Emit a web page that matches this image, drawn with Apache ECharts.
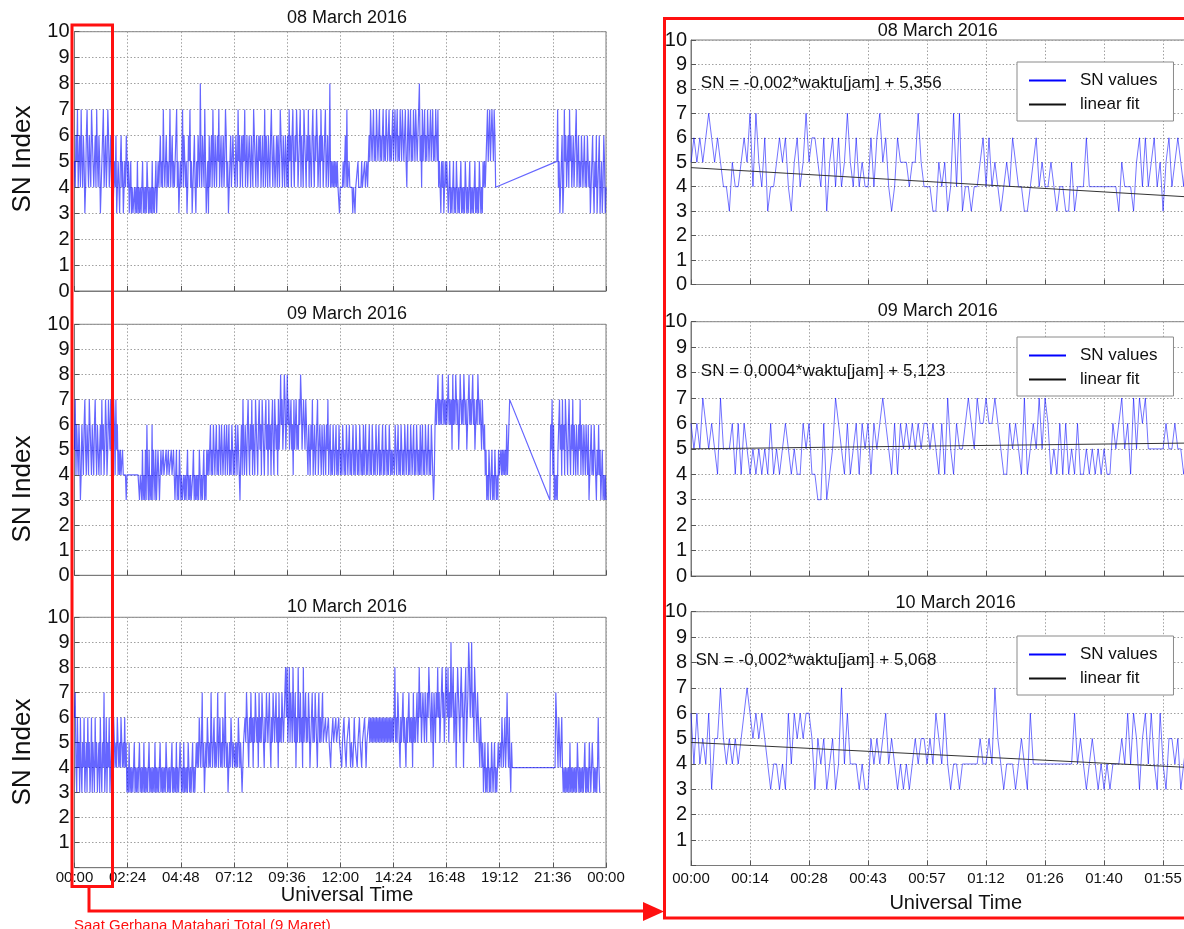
<!DOCTYPE html>
<html>
<head>
<meta charset="utf-8">
<script src="https://cdn.jsdelivr.net/npm/echarts@6/dist/echarts.min.js"></script>
<style>
html,body{margin:0;padding:0;background:#fff;}
#chart{width:1184px;height:929px;}
</style>
</head>
<body>
<div id="chart"></div>
<script>
// ---------- tick labels ----------
const LEFT_TICKS = ['00:00','02:24','04:48','07:12','09:36','12:00','14:24','16:48','19:12','21:36','00:00'];
const RIGHT_TICKS = ['00:00','00:14','00:28','00:43','00:57','01:12','01:26','01:40','01:55','02:09','02:24'];
const TITLES = ['08 March 2016','09 March 2016','10 March 2016'];
const FIT_TEXT = ['SN = -0,002*waktu[jam] + 5,356','SN = 0,0004*waktu[jam] + 5,123','SN = -0,002*waktu[jam] + 5,068'];

// ---------- full-day SN values (about 2-minute sampling) ----------
const d08a = [
5,4,6,5,7,4,5,6,4,7,5,4,6,5,3,4,6,7,5,4,6,5,4,7,6,5,4,5,6,4,7,5,4,6,5,3,4,5,6,7,4,5,6,4,5,7,6,4,5,6,
4,5,3,4,5,4,6,3,4,5,4,3,5,6,4,5,3,4,5,4,6,5,
4,5,3,4,5,3,4,3,
3,4,3,4,3,5,3,4,3,4,3,4,5,3,4,3,4,3,5,4,3,4,3,4,3,5,3,4,3,4,5,3,
4,5,4,5,6,4,5,4,7,5,4,5,6,4,5,4,5,7,4,5,6,4,5,4,5,6,7,4,5,3,4,5,
4,5,7,4,6,5,4,5,3,4,6,5,7,4,5,3,4,5,6,4,3,5,4,6,5,4,8,5,4,6,5,4,7,5,3,4,5,3,6,4,5,6,4,7,5,4,6,5,4,6,5,7,4,5,6,4,5,6,4,5,7,6,4,5,3,4,5,6,4,5,6,5,
5,4,6,5,4,7,5,6,4,5,6,4,6,5,7,4,5,6,4,5,6,5,4,6,5,4,7,6,5,4,6,5,4,6,5,6,4,5,6,4,5,7,4,6,5,4,6,5,4,6,7,5,4,6,5,4,5,6,4,6,5,4,7,6,5,4,6,5,4,6,5,4,
6,4,7,5,6,4,6,7,5,4,6,5,7,6,4,5,6,7,4,6,5,4,7,6,5,4,6,5,7,4,6,5,4,6,7,5,4,6,5,7,6,4,5,6,4,7,5,6,4,5,6,7,4,5,6,4,5,8,4,5,4,5,4,5,4,5,4,5,4,4,3,4,
4,4,4,5,4,4,6,4,7,4,4,5,4,4,4,4,3,4,4,3,4,4,4,5,4,4,4,4,5,4,4,4,5,4,4,5,4,5,
6,5,7,6,5,6,7,5,6,5,7,6,5,6,7,5,6,5,6,7,5,6,5,7,6,5,6,7,5,6,5,6,7,5,
6,7,5,6,7,5,6,5,7,6,5,7,6,5,6,7,5,4,6,7,5,6,7,5,6,5,7,6,5,7,6,5,6,7,8,5,6,4,7,5,6,7,5,6,5,7,6,5,6,7,5,6,7,5,6,5,7,6,5,7,
4,5,4,3,5,4,5,3,4,5,4,5,
4,3,4,5,3,4,3,4,5,3,4,3,5,4,3,4,3,4,5,3,4,3,4,3,5,4,3,4,3,4,5,3,4,3,4,3,4,5,3,4,3,4,3,5,4,3,4,3,5,4,5,4,
5,6,7,5,6,7,5,6,7,6,5,7,6,4];
const d08b = [5,7,4,5,3,4,5,6,3,4,7,5,6,4,5,6,4,7,5,6,4,5,6,4,5,6,7,4,5,6,4,5,4,6,5,4,5,6,4,5,4,6,5,4,5,3,4,5,6,4,3,5,4,6,3,4,5,6,3,4,5,3,4,6,5,3,4];

const d09a = [
5,7,4,6,5,4,6,5,3,4,6,5,4,6,7,5,4,6,5,4,7,6,5,4,6,5,4,6,7,5,4,6,5,4,5,6,4,7,5,6,4,5,7,6,4,5,7,6,5,7,4,6,5,7,6,4,7,5,6,4,5,4,5,4,4,5,4,4,4,4,3,4,
4,4,4,4,4,4,4,4,4,4,4,4,4,4,4,4,3,4,
4,3,5,3,4,3,5,3,6,4,3,5,3,4,3,6,3,5,4,3,5,3,4,5,4,3,
4,5,4,4,5,4,4,4,5,4,4,5,4,4,4,5,4,4,5,4,
3,4,5,3,4,3,5,4,
3,4,3,3,4,3,4,3,4,5,3,4,3,4,3,3,4,5,3,4,3,4,3,4,3,5,4,3,4,3,4,5,3,4,3,5,4,5,
4,5,6,4,5,4,6,5,4,5,6,4,5,4,6,5,4,6,5,4,5,6,4,5,6,4,5,6,4,5,4,6,5,4,
5,4,6,5,4,6,5,4,3,5,6,4,7,5,4,6,5,4,6,7,5,4,6,5,7,4,6,5,4,7,6,5,4,6,7,5,6,4,7,6,5,4,6,7,5,6,4,7,5,6,4,6,7,5,4,7,6,5,6,4,7,5,6,8,6,7,5,6,8,7,5,6,
8,6,7,5,6,7,5,6,4,7,5,6,7,5,6,5,7,6,8,7,5,6,7,6,5,7,6,5,
4,6,5,4,6,5,7,4,5,6,4,5,6,7,4,5,6,5,4,6,5,4,6,5,4,6,5,7,4,5,6,4,5,4,6,5,4,5,6,4,5,4,6,5,
4,5,4,6,5,4,5,4,6,5,4,5,6,4,5,4,5,6,4,5,4,6,5,4,5,4,6,5,4,5,4,6,4,5,6,4,5,4,5,6,4,5,4,6,5,4,5,4,6,5,4,5,6,4,5,4,5,6,4,5,4,6,5,4,5,4,6,5,4,5,4,5,
5,4,6,5,4,5,6,4,5,4,6,5,4,5,4,6,5,4,5,6,4,5,4,6,5,4,5,6,4,5,4,6,5,4,5,4,6,4,5,6,4,5,4,6,5,4,5,6,4,5,4,6,5,4,3,4,
6,7,6,7,8,6,7,6,7,6,8,7,6,7,6,7,
6,7,8,6,7,6,7,5,8,6,7,6,8,7,6,7,5,6,8,7,6,7,6,8,7,6,7,5,6,7,8,6,7,6,7,8,6,7,5,6,7,6,8,7,6,7,6,5,7,6,5,6,
4,5,3,4,3,5,4,3,4,5,3,4,3,5,4,3,4,3,5,4,
4,5,4,5,4,5,4,5,4,6,4,5,6,7,7,7];
const d09b = [3,6,5,7,4,6,3,4,3,4,3,5,6,7,5,6,4,7,5,6,4,7,6,5,4,6,7,5,4,6,5,7,4,6,5,4,6,5,4,6,5,7,4,6,5,4,6,5,4,6,5,4,6,3,4,5,6,4,5,4,6,5,4,3,5,4,6,4,5,3,4,5,3,4,3,4,3];

const d10a = [
6,7,4,3,6,4,5,3,6,4,3,5,4,6,3,4,5,3,6,4,5,3,4,6,3,5,4,3,6,4,5,3,4,5,3,6,4,3,5,4,7,3,4,6,3,5,4,6,3,4,5,3,4,6,5,4,5,4,6,5,4,5,4,6,5,4,5,4,6,4,5,3,
4,3,5,3,4,3,4,3,4,5,3,4,3,4,3,4,5,3,4,3,4,3,5,3,4,3,4,3,4,5,3,4,3,4,3,4,3,5,3,4,3,4,3,4,5,3,4,3,4,3,4,3,5,4,3,4,3,4,3,4,5,3,4,3,4,3,5,3,4,3,4,5,
4,3,4,3,5,3,4,3,4,3,5,4,3,4,3,4,5,3,4,3,4,5,
4,5,4,6,5,4,5,7,4,5,3,4,5,4,6,5,4,5,4,7,5,4,5,6,4,5,4,5,7,4,5,6,4,5,4,6,5,4,7,5,4,5,3,4,5,4,6,5,4,5,
5,4,5,4,5,4,6,5,4,5,4,3,4,5,
5,6,5,7,6,5,4,6,5,7,5,6,4,6,5,7,6,5,6,4,7,5,6,5,7,6,5,4,6,5,7,6,5,6,7,5,4,6,5,7,6,5,6,7,5,6,4,7,5,6,5,7,6,5,6,7,8,6,
8,5,6,8,5,7,6,5,8,6,5,7,4,6,5,8,6,5,7,5,6,4,8,5,6,7,5,6,5,7,6,4,5,6,7,5,6,5,7,6,5,4,6,7,5,6,5,6,7,5,
5,5,6,5,5,5,6,5,5,4,5,5,6,5,5,5,6,5,5,5,6,5,
5,5,4,5,5,6,5,5,4,5,5,5,6,5,4,5,5,4,5,6,5,5,5,4,5,5,6,5,5,4,5,5,5,6,5,4,5,5,5,6,
5,6,5,6,5,6,5,6,5,6,5,6,5,6,5,6,5,6,5,6,5,6,5,6,5,6,5,6,5,6,5,6,
5,6,8,5,6,5,7,6,5,4,6,5,6,7,5,6,5,4,6,5,6,7,5,6,5,6,4,7,5,6,5,6,7,5,6,8,6,7,5,6,7,6,5,7,6,5,7,6,8,7,6,5,7,6,4,7,6,5,7,6,8,6,7,5,6,7,8,6,7,5,6,8,
7,6,8,5,7,6,9,6,7,8,5,6,7,4,6,8,7,6,5,7,8,6,7,4,6,7,8,5,6,7,9,8,6,7,9,6,7,5,8,7,6,5,7,6,5,4,6,5,4,5,
3,4,5,3,4,3,5,4,3,4,3,5,4,3,4,5,3,4,3,4,5,4,
4,5,4,6,5,4,5,6,4,5,7,5,4,6,4,3,5,4];
const d10b = [4,7,6,5,4,6,5,4,5,6,4,3,4,3,4,3,4,3,4,3,5,3,4,3,4,3,4,3,4,3,5,4,3,4,3,4,3,4,3,4,5,3,4,3,4,3,5,4,3,4,5,4,3,4,3,4,3,4,6,4,3];

// segments: [start minute, end minute]
const dayTimes08 = [[0,1141],[1307,1440]];
const dayTimes09 = [[0,1183],[1288,1440]];
const dayTimes10 = [[0,1186],[1302,1423]];

// ---------- first two hours (eclipse window) ----------
const r08 = [
5,6,5,6,5,6,7,6,5,6,5,4,4,3,5,4,4,5,6,5,
7,4,7,5,4,6,3,4,4,5,6,5,6,4,3,5,6,4,5,7,
5,6,6,5,4,6,3,5,6,4,6,4,5,7,5,4,6,4,5,4,
4,6,4,6,7,5,6,4,3,4,6,5,5,5,4,5,5,7,5,4,
4,4,3,3,5,4,5,3,4,7,4,7,3,4,4,3,4,4,5,6,
4,6,4,5,4,3,4,5,4,6,5,4,4,3,3,4,5,6,4,5,
4,4,5,4,3,4,4,3,3,5,3,4,4,4,6,4,4,4,4,4,
4,4,4,4,4,3,5,4,4,4,3,5,6,4,6,4,5,6,4,5,
3,5,6,4,5,6,5,4,6,5];
const r09 = [
6,5,6,5,7,6,5,6,5,4,7,5,5,5,6,4,6,4,6,5,
4,5,4,5,4,5,4,6,4,5,4,5,6,5,4,5,4,4,6,5,
6,4,4,3,3,6,3,4,5,7,6,5,4,6,4,5,6,4,6,5,
6,4,6,5,6,7,6,5,4,6,4,6,5,6,5,6,5,6,5,6,
6,5,6,5,4,6,4,7,5,4,6,5,5,6,7,6,5,7,6,6,
7,6,6,7,6,5,4,4,6,5,6,5,4,7,4,5,6,5,7,5,
7,6,4,5,4,6,4,6,4,5,4,6,4,4,5,4,5,4,5,4,
5,4,4,6,5,6,7,5,6,4,7,5,7,6,7,5,5,5,5,5,
5,6,5,5,6,5,5,4,5,6];
const r10 = [
6,4,6,4,5,4,6,3,5,5,7,5,4,5,4,5,4,5,6,7,
6,5,6,5,6,5,4,3,4,4,3,4,3,6,4,6,5,6,5,6,
6,5,3,5,4,5,3,4,5,3,4,7,4,6,4,4,4,3,4,3,
3,5,4,5,4,5,6,4,5,4,3,4,3,4,3,4,5,4,5,5,
4,5,4,6,5,4,6,4,3,4,4,3,4,4,4,4,4,4,5,4,
4,5,4,7,5,4,3,4,4,4,3,4,5,4,3,6,4,4,4,4,
4,4,4,4,4,4,4,4,4,4,6,4,5,4,3,4,5,4,3,4,
3,4,3,4,4,4,5,4,6,4,6,5,3,5,6,4,6,4,3,6,
4,3,5,5,4,5,3,4,5,3];
const zoomTimes = [0, 121.7];

// linear fit endpoints [minute, SN]
const fit08 = [[0,4.78],[144,3.36]];
const fit09 = [[0,5.0],[144,5.27]];
const fit10 = [[0,4.85],[144,3.68]];

// ---------- build ----------
function expand(values, start, end){
  const n = values.length, step = (end - start) / (n - 1);
  return values.map((v,i)=>[start + i*step, v]);
}
function expandSegs(arrs, times){
  let out = [];
  arrs.forEach((a,k)=>{ out = out.concat(expand(a, times[k][0], times[k][1])); });
  return out;
}
const dayData = [
  expandSegs([d08a,d08b], dayTimes08),
  expandSegs([d09a,d09b], dayTimes09),
  expandSegs([d10a,d10b], dayTimes10)
];
const zoomData = [
  expand(r08, zoomTimes[0], zoomTimes[1]),
  expand(r09, zoomTimes[0], zoomTimes[1]),
  expand(r10, zoomTimes[0], zoomTimes[1])
];
const fits = [fit08, fit09, fit10];

const FONT = '"Liberation Sans", Arial, sans-serif';
const GRID_COL = '#a0a0a0';
const AX_COL = '#7a7a7a';

const grids = [
  {left:74.5, top:31.7, width:531.5, height:259.3},
  {left:74.5, top:324.3, width:531.5, height:251},
  {left:74.5, top:617.3, width:531.5, height:250.4},
  {left:691, top:40, width:590, height:244.5},
  {left:691, top:321.7, width:590, height:254.3},
  {left:691, top:611.7, width:590, height:253.8}
].map(g=>Object.assign({show:true, borderColor:AX_COL, borderWidth:1, containLabel:false, outerBoundsMode:'none'}, g));

const xAxes = [], yAxes = [], series = [];
for (let i=0;i<6;i++){
  const isLeft = i < 3;
  const isBottom = (i === 2 || i === 5);
  xAxes.push({
    type:'value', gridIndex:i, min:0, max: isLeft ? 1440 : 144, interval: isLeft ? 144 : 14.4,
    axisLine:{show:true, lineStyle:{color:AX_COL}},
    axisTick:{show:true, inside:true, length:5, lineStyle:{color:'#555'}},
    axisLabel:{show:isBottom, fontFamily:FONT, fontSize:15, color:'#111', margin: isLeft ? 3 : 6,
      formatter: v => (isLeft ? LEFT_TICKS : RIGHT_TICKS)[Math.round(v / (isLeft ? 144 : 14.4))] || ''},
    splitLine:{show:true, lineStyle:{color:GRID_COL, type:[1.5,2], width:1}}
  });
  yAxes.push({
    type:'value', gridIndex:i, min:0, max:10, interval:1,
    axisLine:{show:true, lineStyle:{color:AX_COL}},
    axisTick:{show:true, inside:true, length:5, lineStyle:{color:'#555'}},
    axisLabel:{fontFamily:FONT, fontSize:20, color:'#111', margin: isLeft ? 5 : 4,
      formatter: v => (isBottom && v === 0) ? '' : String(v)},
    splitLine:{show:true, lineStyle:{color:GRID_COL, type:[1.5,2], width:1}}
  });
  const data = isLeft ? dayData[i] : zoomData[i-3];
  series.push({
    name:'SN values', type:'line', xAxisIndex:i, yAxisIndex:i, data:data,
    symbol:'none', showSymbol:false, animation:false, clip:true, sampling:false,
    lineStyle:{color: isLeft ? 'rgba(0,0,255,0.6)' : 'rgba(0,0,255,0.55)', width: isLeft ? 1.2 : 1},
    itemStyle:{color:'#0000ff'}, z:2
  });
  if (!isLeft){
    series.push({
      name:'linear fit', type:'line', xAxisIndex:i, yAxisIndex:i, data:fits[i-3],
      symbol:'none', showSymbol:false, animation:false, clip:true,
      lineStyle:{color:'#333', width:1}, itemStyle:{color:'#111'}, z:3
    });
  }
}

const legendTops = [62, 337, 636];
const legends = legendTops.map(t=>({
  data:[{name:'SN values', icon:'rect', itemStyle:{color:'#0000ff'}},
        {name:'linear fit', icon:'rect', itemStyle:{color:'#111'}}],
  orient:'vertical', left:1017, top:t, selectedMode:false,
  backgroundColor:'#fff', borderColor:'#8a8a8a', borderWidth:1, borderRadius:0,
  padding:[10,16,8,12], itemWidth:37, itemHeight:2, itemGap:7,
  textStyle:{fontFamily:FONT, fontSize:17, lineHeight:17, color:'#111', padding:[0,0,0,9]}
}));

function txt(x,y,text,size,opts){
  return Object.assign({type:'text', x:x, y:y, z:100, silent:true,
    style:{text:text, font: size + 'px ' + FONT, fill:'#111', align:'center', verticalAlign:'middle'}}, opts||{});
}
const graphics = [];
// titles
[18, 314.3, 606.7].forEach((y,k)=>graphics.push(txt(347, y, TITLES[k], 18)));
[[937.7,30.7],[937.7,310.7],[955.6,603.3]].forEach((p,k)=>graphics.push(txt(p[0], p[1], TITLES[k], 18)));
// y names
[159, 489, 752].forEach(y=>graphics.push(txt(22.5, y, 'SN Index', 26, {rotation:Math.PI/2})));
// x names
graphics.push(txt(347, 895, 'Universal Time', 20));
graphics.push(txt(955.7, 903, 'Universal Time', 20));
// fit equations
[[700.8,83.3],[700.8,371],[695.5,660]].forEach((p,k)=>{
  const t = txt(p[0], p[1], FIT_TEXT[k], 17); t.style.align = 'left'; graphics.push(t);
});
// red annotation
const RED = '#ff1010';
graphics.push({type:'rect', z:100, silent:true, shape:{x:72, y:25, width:40.5, height:861.5},
  style:{fill:null, stroke:RED, lineWidth:3}});
graphics.push({type:'rect', z:100, silent:true, shape:{x:664.5, y:18.5, width:600, height:899.5},
  style:{fill:null, stroke:RED, lineWidth:3}});
graphics.push({type:'polyline', z:100, silent:true, shape:{points:[[89,886],[89,911],[646,911]]},
  style:{fill:null, stroke:RED, lineWidth:3}});
graphics.push({type:'polygon', z:100, silent:true, shape:{points:[[643,902],[664,911.5],[643,921]]},
  style:{fill:RED, stroke:null}});
(function(){
  const t = txt(74, 918, 'Saat Gerhana Matahari Total (9 Maret)', 15);
  t.style.align = 'left'; t.style.verticalAlign = 'top'; t.style.fill = RED; graphics.push(t);
})();

const chart = echarts.init(document.getElementById('chart'), null, {renderer:'canvas'});
chart.setOption({
  animation:false,
  backgroundColor:'#fff',
  grid:grids, xAxis:xAxes, yAxis:yAxes, series:series,
  legend:legends,
  graphic:graphics
});
</script>
</body>
</html>
